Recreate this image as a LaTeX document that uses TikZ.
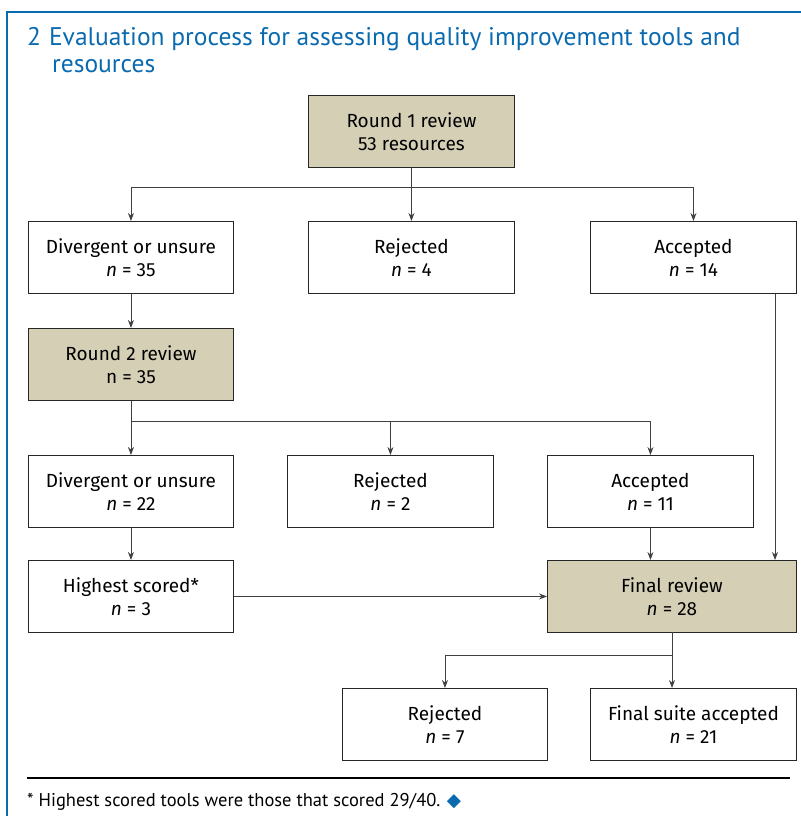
\documentclass[tikz,border=0pt]{standalone}
\usepackage{fontspec}
\setmainfont{Fira Sans}
\newfontfamily\titlefont{PT Sans}
\usetikzlibrary{arrows.meta}
\definecolor{frameblue}{HTML}{0A6AB0}
\definecolor{tan}{HTML}{D5CFB6}
\begin{document}
\begin{tikzpicture}[x=1pt,y=1pt,
  box/.style={draw=black!85,line width=0.9pt,minimum width=205pt,minimum height=72pt,anchor=north west,align=center,font=\fontsize{19}{23}\selectfont,inner sep=0pt},
  rev/.style={box,fill=tan},
  conn/.style={draw=black!75,line width=0.9pt},
  arr/.style={conn,-{Stealth[length=8pt,width=6pt]}},
  ttl/.style={anchor=base west,inner sep=0pt,text=frameblue,font=\titlefont\fontsize{25.5}{28}\selectfont}]
\useasboundingbox (0,0) rectangle (800,-816);
\draw[frameblue,line width=2pt] (7,-816) -- (7,-12) -- (801,-12);
\node[ttl] (t1) at (27,-46) {2\hspace{8pt}Evaluation process for assessing quality improvement tools and};
\node[ttl] (t2) at (52,-72) {resources};
% nodes
\node[rev,minimum width=206pt] (r1) at (308,-95) {Round 1 review\\53 resources};
\node[box] (d1) at (28,-221) {Divergent or unsure\\\textit{n} = 35};
\node[box,minimum width=206pt] (j1) at (308,-221) {Rejected\\\textit{n} = 4};
\node[box,minimum width=206pt] (a1) at (590,-221) {Accepted\\\textit{n} = 14};
\node[rev] (r2) at (28,-328) {Round 2 review\\n = 35};
\node[box] (d2) at (28,-455) {Divergent or unsure\\\textit{n} = 22};
\node[box,minimum width=206pt] (j2) at (287,-455) {Rejected\\\textit{n} = 2};
\node[box,minimum width=206pt] (a2) at (547,-455) {Accepted\\\textit{n} = 11};
\node[box] (hs) at (28,-560) {Highest scored*\\\textit{n} = 3};
\node[rev,minimum width=249pt] (fr) at (547,-560) {Final review\\\textit{n} = 28};
\node[box] (j3) at (342,-688) {Rejected\\\textit{n} = 7};
\node[box,minimum width=206pt] (fs) at (590,-688) {Final suite accepted\\\textit{n} = 21};
% connectors round 1
\coordinate (b1) at (r1.south |- 0,-187);
\draw[conn] (r1.south) -- (b1);
\draw[conn] (d1.north |- b1) -- (a1.north |- b1);
\draw[arr] (b1) -- (j1.north);
\draw[arr] (d1.north |- b1) -- (d1.north);
\draw[arr] (a1.north |- b1) -- (a1.north);
\draw[arr] (d1.south) -- (r2.north);
% round 2
\coordinate (b2) at (r2.south |- 0,-421);
\draw[conn] (r2.south) -- (b2) -- (a2.north |- b2);
\draw[arr] (b2) -- (d2.north);
\draw[arr] (j2.north |- b2) -- (j2.north);
\draw[arr] (a2.north |- b2) -- (a2.north);
\draw[arr] (d2.south) -- (hs.north);
\draw[arr] (a2.south) -- (a2.south |- fr.north);
\draw[arr] (a1.south -| 775,0) -- (775,-560);
\draw[arr] (hs.east) -- (fr.west);
% final
\coordinate (fb) at (672,-632);
\coordinate (b3) at (672,-655);
\draw[conn] (fb) -- (b3) -- (j3.north |- b3);
\draw[arr] (j3.north |- b3) -- (j3.north);
\draw[arr] (b3) -- (b3 |- fs.north);
% footer
\draw[black,line width=2pt] (27,-778) -- (790,-778);
\node[anchor=base west,inner sep=0pt,font=\titlefont\fontsize{18.5}{20}\selectfont] (fn) at (27,-806) {* Highest scored tools were those that scored 29/40. \textcolor{frameblue}{\fontspec{DejaVu Sans}\char"25C6}};
\end{tikzpicture}
\end{document}
